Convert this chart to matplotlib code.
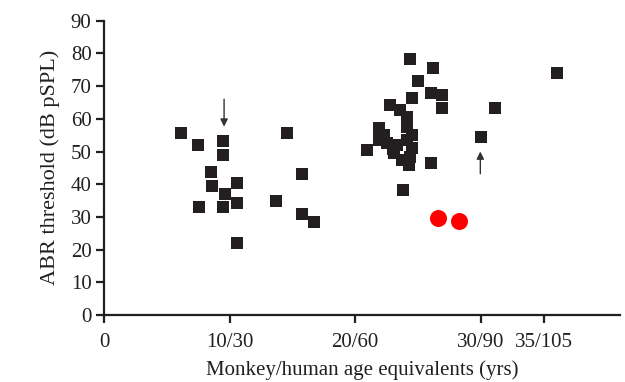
import matplotlib
matplotlib.use("Agg")
from matplotlib import pyplot as plt

# monkey age (yrs) vs ABR threshold
age_sq = [6.1, 7.5, 9.5, 9.5, 8.5, 8.6, 10.6, 9.6, 10.6, 7.6, 9.5, 10.6,
          14.6, 15.8, 13.7, 15.8, 16.7,
          24.4, 26.2, 25.0, 26.0, 26.9, 24.5, 26.9, 22.8, 23.6, 24.1, 24.1,
          24.5, 21.9, 21.9, 22.5, 23.3, 24.1, 24.5, 23.1, 23.7, 24.4, 20.9,
          26.0, 23.8, 23.0, 22.3, 24.3,
          31.1, 30.0, 36.1]
thr_sq = [55.7, 52.1, 53.3, 48.9, 43.8, 39.4, 40.3, 37.0, 34.2, 32.9, 32.9, 21.9,
          55.7, 43.1, 34.9, 30.9, 28.5,
          78.2, 75.4, 71.7, 68.0, 67.3, 66.3, 63.2, 64.2, 62.7, 60.6, 57.6,
          55.0, 57.1, 53.5, 52.5, 52.0, 53.5, 51.0, 49.4, 47.4, 48.4, 50.5,
          46.4, 38.2, 50.8, 55.0, 45.8,
          63.2, 54.5, 74.1]

age_red = [26.6, 28.3]
thr_red = [29.6, 28.8]

tick_pos = [0, 10, 20, 30, 35]
tick_lab = ["0", "10/30", "20/60", "30/90", "35/105"]

plt.rcParams["font.family"] = ["Liberation Serif", "DejaVu Serif"]

fig = plt.figure(figsize=(6.25, 3.82), dpi=100)
ax = fig.add_axes([0.1664, 0.1754, 0.826, 0.7704])

ax.scatter(age_sq, thr_sq, marker="s", s=74, color="#231f20", linewidths=0, zorder=3)
ax.scatter(age_red, thr_red, marker="o", s=150, color="#ff0000", linewidths=0, zorder=3)

# arrows
arr = dict(arrowstyle="-|>", color="#333333", lw=1, mutation_scale=11, shrinkA=0, shrinkB=0)
ax.annotate("", xy=(9.56, 57.6), xytext=(9.56, 66.0), arrowprops=arr)
ax.annotate("", xy=(29.96, 50.0), xytext=(29.96, 43.2), arrowprops=arr)

ax.set_xlim(0, 41.1)
ax.set_ylim(0, 90)
ax.set_xticks(tick_pos)
ax.set_xticklabels(tick_lab)
ax.set_yticks(range(0, 91, 10))

for s in ("top", "right"):
    ax.spines[s].set_visible(False)
for s in ("left", "bottom"):
    ax.spines[s].set_linewidth(1.6)
    ax.spines[s].set_color("#231f20")

ax.tick_params(axis="both", direction="out", length=6, width=1.6, color="#231f20",
               labelsize=15, labelcolor="#231f20")
ax.tick_params(axis="x", pad=7)
ax.tick_params(axis="y", pad=3)

ax.set_xlabel("Monkey/human age equivalents (yrs)", fontsize=15, color="#231f20", labelpad=6)
ax.set_ylabel("ABR threshold (dB pSPL)", fontsize=16, color="#231f20", labelpad=8)

fig.savefig("out.png", dpi=100)
